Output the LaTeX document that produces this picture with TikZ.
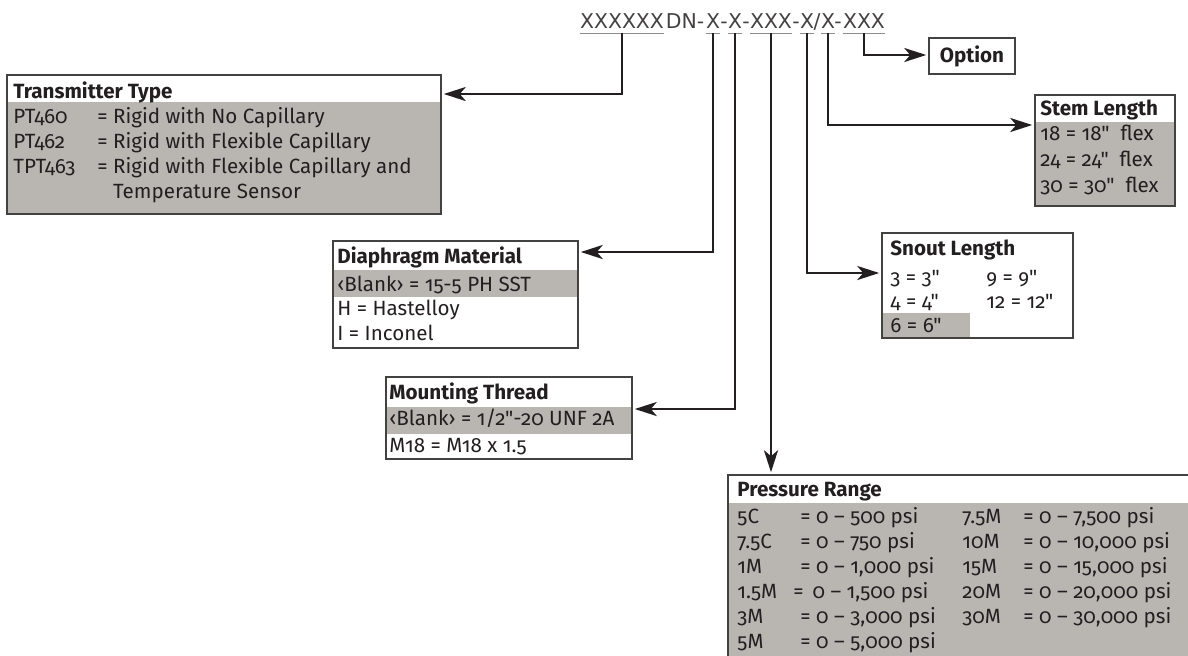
\documentclass[tikz,border=0pt]{standalone}
\usepackage{fontspec}
\newfontfamily\boxfont{Fira Sans}[Numbers=OldStyle]
\newfontfamily\codefont{DejaVu Sans}
\usetikzlibrary{arrows.meta, fit, positioning}
\definecolor{bandgray}{RGB}{185,181,177}
\definecolor{ink}{RGB}{35,31,32}

\begin{document}
\begin{tikzpicture}[
    x=0.5pt, y=-0.5pt,
    box/.style={draw=ink!85, line width=0.75pt, inner sep=0pt},
    band/.style={fill=bandgray},
    txt/.style={anchor=base west, inner sep=0pt, text=ink, font=\boxfont\fontsize{10.3}{12.5}\selectfont},
    head/.style={txt, font=\boxfont\fontsize{10.3}{12.5}\selectfont\bfseries},
    seg/.style={anchor=base, inner xsep=0pt, inner ysep=2.5pt, text depth=0pt, text=ink!85, font=\codefont\fontsize{10.2}{12}\selectfont},
    uline/.style={draw=black!45, line width=0.6pt},
    arrow/.style={draw=ink, line width=1.35pt, -{Stealth[length=11pt, width=7pt, inset=3pt]}, shorten >=1pt}
]
    \useasboundingbox (0,0) rectangle (1188,655);

    % model code
    \node[seg] (s1) at (622,28) {XXXXXX};
    \node[seg] (d1) at (685,28) {DN-};
    \node[seg] (s2) at (713,28) {X};
    \node[seg] (d2) at (724,28) {-};
    \node[seg] (s3) at (735,28) {X};
    \node[seg] (d3) at (746,28) {-};
    \node[seg] (s4) at (771,28) {XXX};
    \node[seg] (d4) at (796,28) {-};
    \node[seg] (s5) at (807,28) {X};
    \node[seg] (d5) at (817,28) {/};
    \node[seg] (s6) at (828,28) {X};
    \node[seg] (d6) at (838,28) {-};
    \node[seg] (s7) at (864,28) {XXX};
    \foreach \s in {s1,s2,s3,s4,s5,s6,s7}
        \draw[uline] (\s.south west) -- (\s.south east);

    % gray bands
    \fill[band] (7,102) rectangle (441,214);
    \fill[band] (333,270) rectangle (578,297);
    \fill[band] (386,407) rectangle (632,434);
    \fill[band] (882,313) rectangle (970,338);
    \fill[band] (1035,122) rectangle (1175,206);
    \fill[band] (728,503) rectangle (1200,670);

    % boxes
    \node[box, fit={(7,75) (441,214)}] (ttype) {};
    \node[box, fit={(333,241) (578,348)}] (dmat) {};
    \node[box, fit={(386,377) (632,459)}] (mthread) {};
    \node[box, fit={(882,233) (1073,338)}] (snout) {};
    \node[box, fit={(1035,95) (1175,206)}] (stem) {};
    \node[box, fit={(728,475) (1200,670)}] (prange) {};
    \node[box, minimum width=43pt, minimum height=18pt, text=ink, font=\boxfont\fontsize{10.3}{12.5}\selectfont\bfseries] (option) at (972,56) {Option};

    % Transmitter Type
    \node[head] (tt-h) at (13,98) {Transmitter Type};
    \node[txt] (tt-r) at (13,123) {\begin{tabular}[t]{@{}p{42pt}@{}l@{}}
        PT460 & = Rigid with No Capillary\\
        PT462 & = Rigid with Flexible Capillary\\
        TPT463 & = Rigid with Flexible Capillary and\\
         & \phantom{=} Temperature Sensor
    \end{tabular}};

    % Diaphragm Material
    \node[head] (dm-h) at (337,263) {Diaphragm Material};
    \node[txt, font=\boxfont\fontsize{10.3}{12.25}\selectfont] (dm-r) at (337,291) {\begin{tabular}[t]{@{}l@{}}
        ‹Blank› = 15-5 PH SST\\
        H = Hastelloy\\
        I = Inconel
    \end{tabular}};

    % Mounting Thread
    \node[head] (mt-h) at (389,399) {Mounting Thread};
    \node[txt, font=\boxfont\fontsize{10.3}{13.5}\selectfont] (mt-r) at (389,425) {\begin{tabular}[t]{@{}l@{}}
        ‹Blank› = 1/2"-20 UNF 2A\\
        M18 = M18 x 1.5
    \end{tabular}};

    % Snout Length
    \node[head] (sn-h) at (890,255) {Snout Length};
    \node[txt, font=\boxfont\fontsize{10.3}{12}\selectfont] (sn-r) at (890,284) {\begin{tabular}[t]{@{}p{48pt}@{}l@{}}
        3 = 3" & 9 = 9"\\
        4 = 4" & 12 = 12"\\
        6 = 6" &
    \end{tabular}};

    % Stem Length
    \node[head] (st-h) at (1040,115) {Stem Length};
    \node[txt, font=\boxfont\fontsize{10.3}{13}\selectfont] (st-r) at (1040,140) {\begin{tabular}[t]{@{}l@{}}
        18 = 18" \ flex\\
        24 = 24" \ flex\\
        30 = 30" \ flex
    \end{tabular}};

    % Pressure Range
    \node[head] (pr-h) at (737,496) {Pressure Range};
    \node[txt] (pr-r) at (737,523) {\begin{tabular}[t]{@{}p{31.5pt}@{}p{81pt}@{}p{30.5pt}@{}l@{}}
        5C & = 0 – 500 psi & 7.5M & = 0 – 7,500 psi\\
        7.5C & = 0 – 750 psi & 10M & = 0 – 10,000 psi\\
        1M & = 0 – 1,000 psi & 15M & = 0 – 15,000 psi\\
        1.5M & \hspace{-3.5pt}= \,0 – 1,500 psi & 20M & = 0 – 20,000 psi\\
        3M & = 0 – 3,000 psi & 30M & = 0 – 30,000 psi\\
        5M & = 0 – 5,000 psi & &
    \end{tabular}};

    % connectors
    \coordinate (k1) at (622,94);
    \coordinate (k2) at (713,252);
    \coordinate (k3) at (735,409);
    \coordinate (k5) at (807,273);
    \coordinate (k6) at (828,125);
    \coordinate (k7) at (864,55);
    \draw[arrow] (s1.south) -- (k1) -- (ttype.east |- k1);
    \draw[arrow] (s2.south) -- (k2) -- (dmat.east |- k2);
    \draw[arrow] (s3.south) -- (k3) -- (mthread.east |- k3);
    \draw[arrow] (s4.south) -- (prange.north -| s4.south);
    \draw[arrow] (s5.south) -- (k5) -- (snout.west |- k5);
    \draw[arrow] (s6.south) -- (k6) -- (stem.west |- k6);
    \draw[arrow] (s7.south) -- (k7) -- (option.west |- k7);
\end{tikzpicture}
\end{document}
